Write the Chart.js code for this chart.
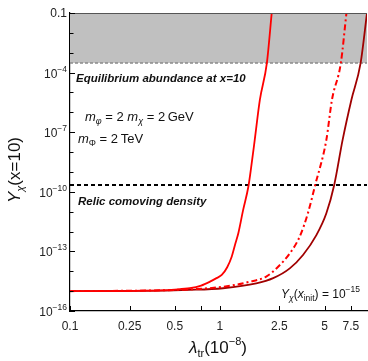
<!DOCTYPE html>
<html><head><meta charset="utf-8">
<script src="https://cdn.jsdelivr.net/npm/chart.js@4"></script>
<style>html,body{margin:0;padding:0;background:#fff}#wrap{width:368px;height:361px;position:relative}</style>
</head><body><div id="wrap"><canvas id="c" width="368" height="361" style="width:368px;height:361px"></canvas></div>
<script>
// ---- data ----
const curve1Lambda = [0.1,0.2,0.3,0.4,0.5,0.63,0.75,0.86,0.95,1.03,1.12,1.2,1.27,1.33,1.43,1.55,1.62,1.71,1.85,2.06,2.22];
const curve1Y = [1.0e-15,1.0e-15,1.05e-15,1.1e-15,1.2e-15,1.4e-15,1.9e-15,3.0e-15,4.5e-15,6.5e-15,1.6e-14,5.4e-14,2.5e-13,8.5e-13,1.2e-11,1.8e-10,1.8e-9,4.1e-8,4.2e-6,3.0e-4,0.1];
const curve2Lambda = [0.1,0.5,1.05,1.58,2.04,2.45,2.93,3.41,3.87,4.33,5.14,5.6,6.42,7.0];
const curve2Y = [1e-15,1.15e-15,1.66e-15,2.95e-15,5.4e-15,1.7e-14,7.9e-14,5.5e-13,8.3e-12,2.2e-10,4.1e-8,4.2e-6,3e-4,0.1];
const curve3Lambda = [0.1,0.3,0.63,1.05,1.75,2.27,2.93,3.59,4.41,5.14,5.8,6.6,7.55,8.7,9.6];
const curve3Y = [1.0e-15,1.02e-15,1.15e-15,1.4e-15,2.45e-15,4.5e-15,1.4e-14,6.6e-14,6.6e-13,8.3e-12,2.2e-10,4.1e-8,4.2e-6,3.0e-4,0.1];
const eqAbundance = 3e-4;
const relicDensity = 2.2e-10;
const xRange = [0.1, 9.6];
const yRange = [1e-16, 0.1];
const xTickValues = [0.1,0.25,0.5,0.75,1,2.5,5,7.5];
const xTickLabels = ['0.1','0.25','0.5','','1','2.5','5','7.5'];
const yTickExps = [-16,-15,-14,-13,-12,-11,-10,-9,-8,-7,-6,-5,-4,-3,-2,-1];
const yLabelExps = [-16,-13,-10,-7,-4,-1];

const toPts = (xs, ys) => xs.map((x,i)=>({x, y: ys[i]}));
const FONT = '"Liberation Sans", Arial, sans-serif';

function rich(ctx, x, y, parts, align) {
  let w = 0;
  parts.forEach(p => { ctx.font = `${p.style||''} ${p.size}px ${FONT}`; p.w = ctx.measureText(p.t).width + (p.gap||0); w += p.w; });
  let cx = align === 'right' ? x - w : align === 'center' ? x - w/2 : x;
  ctx.textAlign = 'left'; ctx.textBaseline = 'alphabetic';
  parts.forEach(p => { ctx.font = `${p.style||''} ${p.size}px ${FONT}`; ctx.fillText(p.t, cx, y + (p.dy||0)); cx += p.w; });
}

const decor = {
  id: 'decor',
  afterDraw(chart) {
    const ctx = chart.ctx, a = chart.chartArea;
    const xs = chart.scales.x, ys = chart.scales.y;
    ctx.save();
    ctx.strokeStyle = '#555'; ctx.lineWidth = 1.2;
    ctx.beginPath(); ctx.moveTo(a.left, a.top + 0.5); ctx.lineTo(a.right, a.top + 0.5); ctx.stroke();
    ctx.strokeStyle = '#000'; ctx.lineWidth = 1;
    yTickExps.forEach(e => {
      const py = Math.round(ys.getPixelForValue(Math.pow(10, e))) + 0.5;
      const len = yLabelExps.includes(e) ? 5 : 3.5;
      ctx.beginPath(); ctx.moveTo(a.left, py); ctx.lineTo(a.left + len, py); ctx.stroke();
    });
    xTickValues.forEach(v => {
      const px = Math.round(xs.getPixelForValue(v)) + 0.5;
      ctx.beginPath(); ctx.moveTo(px, a.bottom); ctx.lineTo(px, a.bottom - 5); ctx.stroke();
    });
    ctx.fillStyle = '#222';
    yLabelExps.forEach(e => {
      const py = ys.getPixelForValue(Math.pow(10, e));
      if (e === -1) rich(ctx, a.left - 3, py + 4, [{t:'0.1', size:12}], 'right');
      else rich(ctx, a.left - 3, py + 5, [{t:'10', size:12}, {t:'\u2212' + (-e), size:8.5, dy:-6}], 'right');
    });
    xTickValues.forEach((v, i) => {
      if (!xTickLabels[i]) return;
      rich(ctx, xs.getPixelForValue(v), a.bottom + 19, [{t:xTickLabels[i], size:12}], 'center');
    });
    ctx.fillStyle = '#111';
    rich(ctx, 218, 353, [{t:'\u03bb', size:17, style:'italic'}, {t:'tr', size:11, dy:4}, {t:'(10', size:17}, {t:'\u22128', size:11, dy:-8}, {t:')', size:17}], 'center');
    ctx.save(); ctx.translate(20, 170); ctx.rotate(-Math.PI/2);
    rich(ctx, 0, 0, [{t:'Y', size:17, style:'italic'}, {t:'\u03c7', size:11, style:'italic', dy:4}, {t:'(x=10)', size:17}], 'center');
    ctx.restore();
    rich(ctx, 76, 82, [{t:'Equilibrium abundance at x=10', size:11.5, style:'italic bold'}], 'left');
    rich(ctx, 78, 205, [{t:'Relic comoving density', size:11.5, style:'italic bold'}], 'left');
    rich(ctx, 85, 121, [{t:'m', size:13, style:'italic'}, {t:'\u03c6', size:9, style:'italic', dy:3}, {t:' = 2 ', size:13}, {t:'m', size:13, style:'italic'}, {t:'\u03c7', size:9, style:'italic', dy:3}, {t:' = 2\u2009GeV', size:13}], 'left');
    rich(ctx, 78, 143, [{t:'m', size:13, style:'italic'}, {t:'\u03a6', size:9, dy:3}, {t:' = 2\u2009TeV', size:13}], 'left');
    rich(ctx, 360, 298, [{t:'Y', size:12, style:'italic'}, {t:'\u03c7', size:8.5, style:'italic', dy:3}, {t:'(', size:12}, {t:'x', size:12, style:'italic'}, {t:'init', size:8.5, dy:3}, {t:') = 10', size:12}, {t:'\u221215', size:8.5, dy:-6}], 'right');
    ctx.restore();
  }
};

const common = {pointRadius: 0, fill: false, cubicInterpolationMode: 'monotone', order: 1};
new Chart(document.getElementById('c'), {
  type: 'line',
  data: {
    datasets: [
      Object.assign({}, common, {data: toPts(curve1Lambda, curve1Y), borderColor: '#ff0000', borderWidth: 1.8}),
      Object.assign({}, common, {data: toPts(curve2Lambda, curve2Y), borderColor: '#ff0000', borderWidth: 2, borderDash: [6,3,2,3]}),
      Object.assign({}, common, {data: toPts(curve3Lambda, curve3Y), borderColor: '#a00000', borderWidth: 1.8}),
      {data: toPts(xRange, [eqAbundance, eqAbundance]), borderColor: '#8a8a8a', borderWidth: 1.5, borderDash: [3,2], backgroundColor: '#c0c0c0', fill: 'end', pointRadius: 0, order: 10},
      {data: toPts(xRange, [relicDensity, relicDensity]), borderColor: '#000', borderWidth: 2, borderDash: [4,3], fill: false, pointRadius: 0, order: 5}
    ]
  },
  options: {
    responsive: false, animation: false, devicePixelRatio: 1,
    layout: {padding: {top: 13, right: 1, left: 0, bottom: 0}},
    plugins: {legend: {display: false}, tooltip: {enabled: false}},
    scales: {
      x: {type: 'logarithmic', min: xRange[0], max: xRange[1],
          grid: {display: false}, ticks: {display: false},
          border: {display: true, color: '#000', width: 1.2},
          afterFit(s) { s.height = 50; }},
      y: {type: 'logarithmic', min: yRange[0], max: yRange[1],
          grid: {display: false}, ticks: {display: false},
          border: {display: true, color: '#000', width: 1.2},
          afterFit(s) { s.width = 70; }}
    }
  },
  plugins: [decor]
});
</script>
</body></html>
